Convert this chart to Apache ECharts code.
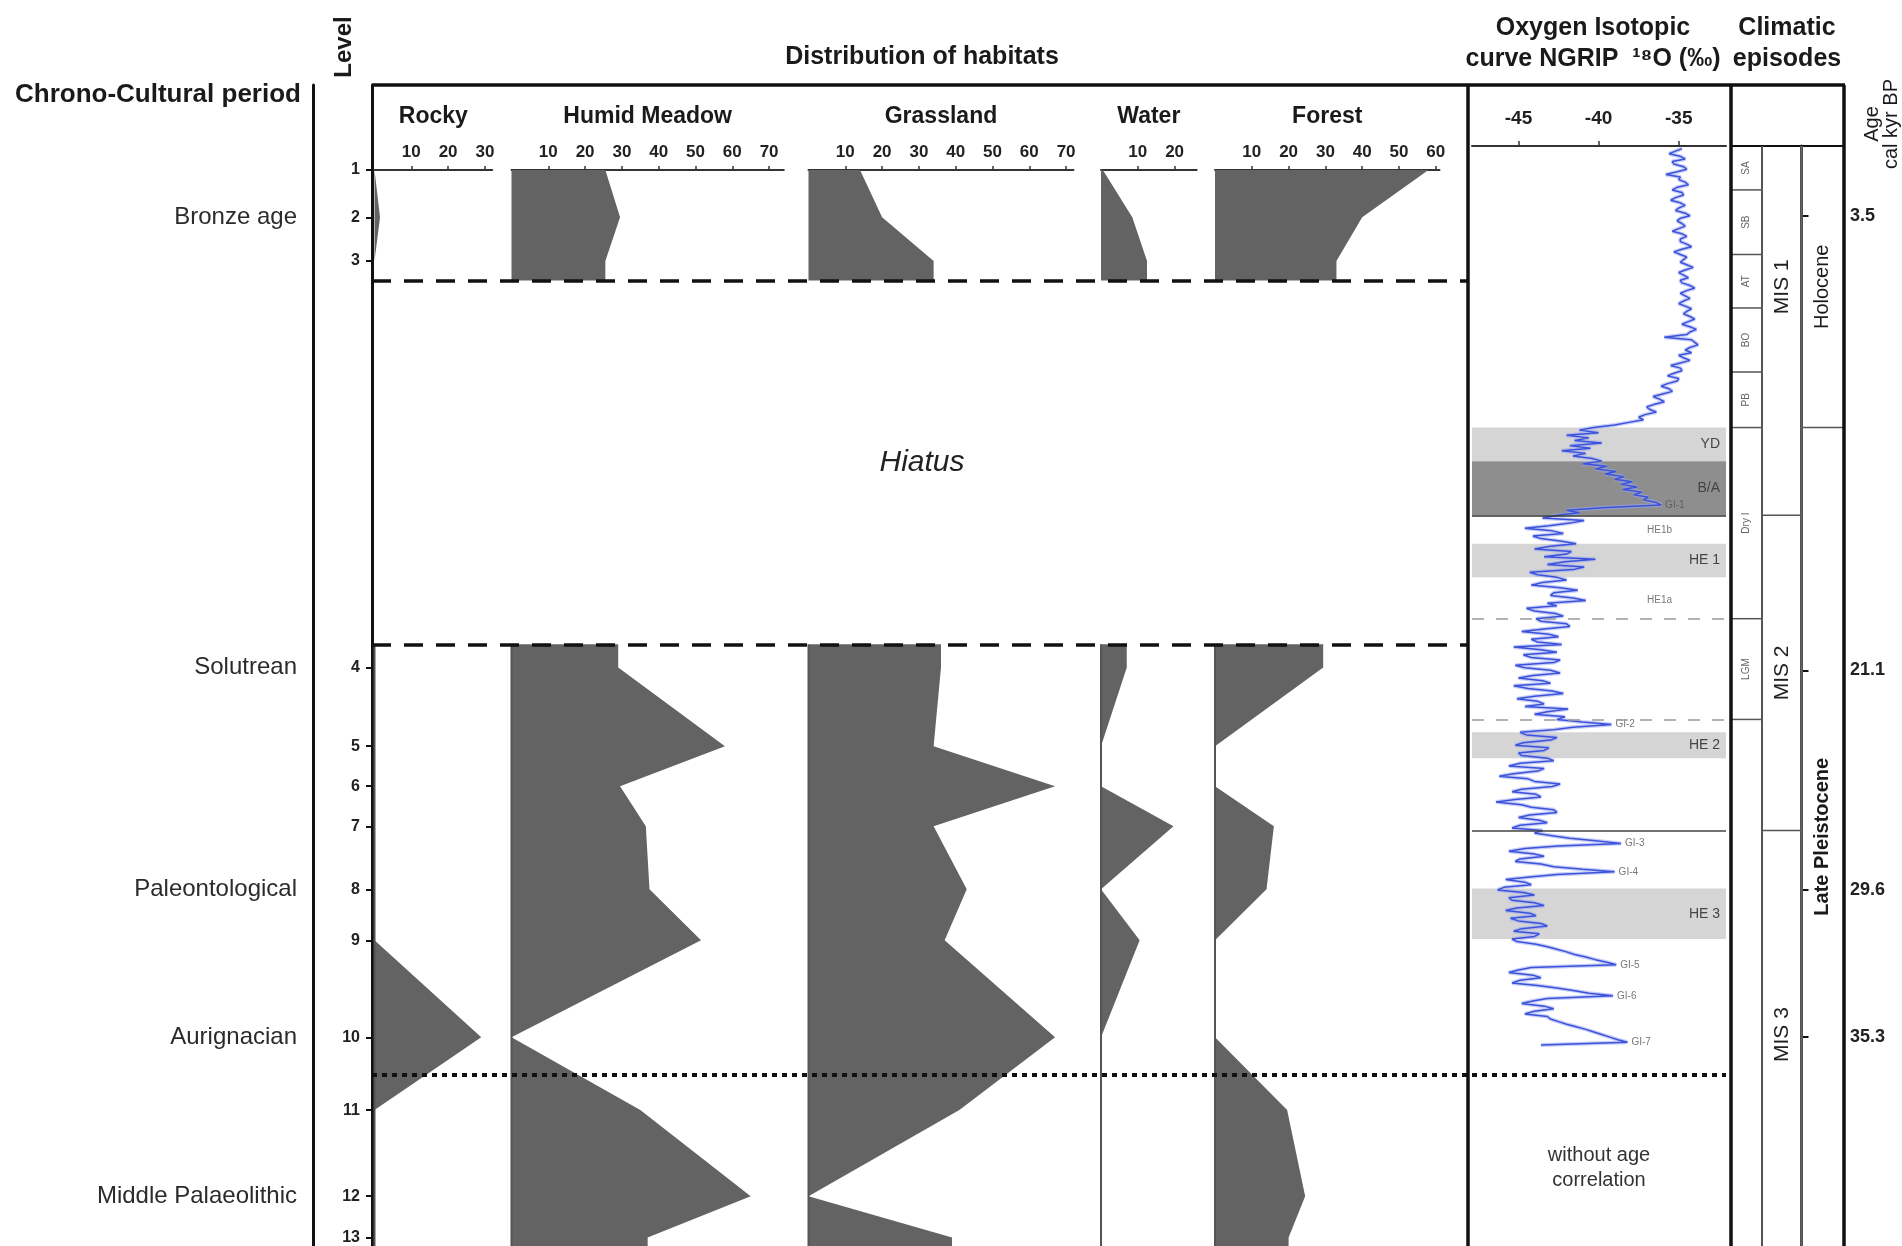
<!DOCTYPE html>
<html><head><meta charset="utf-8">
<script src="https://cdn.jsdelivr.net/npm/echarts@6/dist/echarts.min.js"></script>
<style>html,body{margin:0;padding:0;background:#fff}#c{width:1902px;height:1246px}</style>
</head><body><div id="c"></div>
<script>
// ---------------- DATA ----------------
const levels = ['1','2','3','4','5','6','7','8','9','10','11','12','13'];
// stratigraphic position of each level (depth units, top = 0)
const levelDepth = [0, 4.73, 9.1, 49.74, 57.62, 61.62, 65.63, 71.93, 77.03, 86.73, 94.01, 102.62, 106.75];
const hiatusTopDepth = 11.04, hiatusBaseDepth = 47.43, ageLimitDepth = 90.49;

const periods = ['Bronze age', 'Solutrean', 'Paleontological', 'Aurignacian', 'Middle Palaeolithic'];
const periodLevel = [2, 4, 8, 10, 12];

const habitats = ['Rocky', 'Humid Meadow', 'Grassland', 'Water', 'Forest'];
const rocky       = [0, 1.5, 0, 0, 0, 0, 0, 0, 0, 29, 0, 0, 0];
const humidMeadow = [25.5, 29.5, 25.5, 29, 58, 29.5, 36.5, 37.5, 51.5, 0, 35, 65, 37];
const grassland   = [14, 20, 34, 36, 34, 67, 34, 43, 37, 67, 41, 0, 39];
const water       = [0.5, 8.5, 12.5, 7, 0, 0, 19.7, 0, 10.5, 0, 0, 0, 0];
const forest      = [58, 40, 33, 29.4, 0, 0, 16, 14, 0, 0, 19.6, 24.5, 20];
const habitatMax  = [32, 74, 72, 26, 61];
const habitatTicks = [[10,20,30],[10,20,30,40,50,60,70],[10,20,30,40,50,60,70],[10,20],[10,20,30,40,50,60]];

// NGRIP d18O: [age ka, value permil]
const o18Curve = [
[0.9,-34.8],[1.0,-35.2],[1.1,-35.6],[1.2,-34.9],[1.3,-34.6],[1.4,-35.4],[1.5,-35.3],[1.6,-34.7],[1.7,-34.5],[1.8,-35.1],[1.9,-35.8],[2.0,-34.9],[2.1,-35.0],[2.2,-34.6],[2.3,-34.4],[2.4,-35.1],[2.5,-35.4],[2.6,-34.8],[2.7,-34.7],[2.8,-35.2],[2.9,-35.5],[3.0,-34.9],[3.1,-34.6],[3.2,-35.0],[3.3,-35.2],[3.4,-34.6],[3.5,-34.3],[3.6,-34.9],[3.7,-35.1],[3.8,-34.8],[3.9,-34.6],[4.0,-35.0],[4.1,-35.4],[4.2,-34.8],[4.3,-34.5],[4.4,-34.9],[4.5,-34.9],[4.6,-34.5],[4.7,-34.2],[4.8,-34.8],[4.9,-35.3],[5.0,-34.9],[5.1,-34.5],[5.2,-34.7],[5.3,-34.9],[5.4,-34.5],[5.5,-34.1],[5.6,-34.6],[5.7,-35.0],[5.8,-34.7],[5.9,-34.4],[6.0,-34.9],[6.1,-34.8],[6.2,-34.3],[6.3,-34.0],[6.4,-34.5],[6.5,-34.9],[6.6,-34.6],[6.7,-34.3],[6.8,-34.7],[6.9,-35.0],[7.0,-34.6],[7.1,-34.2],[7.2,-34.5],[7.3,-34.7],[7.4,-34.3],[7.5,-34.0],[7.6,-34.4],[7.7,-34.8],[7.8,-34.3],[7.9,-33.9],[8.0,-34.3],[8.1,-34.5],[8.2,-35.9],[8.3,-34.2],[8.4,-34.0],[8.5,-33.8],[8.6,-34.3],[8.7,-34.6],[8.8,-34.2],[8.9,-35.0],[9.0,-34.7],[9.1,-34.3],[9.2,-34.9],[9.3,-35.5],[9.4,-34.9],[9.5,-34.8],[9.6,-35.3],[9.7,-35.7],[9.8,-35.0],[9.9,-35.1],[10.0,-35.7],[10.1,-36.1],[10.2,-35.6],[10.3,-35.4],[10.4,-36.0],[10.5,-36.6],[10.6,-36.2],[10.7,-35.9],[10.8,-36.5],[10.9,-37.0],[11.0,-36.8],[11.1,-36.4],[11.2,-37.1],[11.3,-37.5],[11.4,-37.2],[11.5,-38.1],[11.6,-39.0],[11.7,-40.3],
[11.8,-41.2],[11.9,-40.0],[12.0,-42.0],[12.1,-40.6],[12.2,-41.5],[12.3,-39.8],[12.4,-41.8],[12.5,-40.5],[12.6,-42.3],[12.7,-40.8],[12.8,-41.6],[12.9,-40.4],
[13.0,-39.8],[13.1,-41.0],[13.2,-39.5],[13.3,-40.2],[13.4,-38.9],[13.5,-39.6],[13.6,-38.4],[13.7,-39.0],[13.8,-37.9],[13.9,-38.6],[14.0,-37.6],[14.1,-38.5],[14.2,-37.3],[14.3,-37.8],[14.4,-36.9],[14.5,-37.2],[14.6,-36.4],[14.7,-36.1],[14.8,-39.5],[14.9,-42.0],
[15.0,-41.2],[15.1,-42.6],[15.2,-43.5],[15.3,-40.9],[15.4,-41.8],[15.5,-43.1],[15.6,-44.6],[15.7,-42.9],[15.8,-42.2],[15.9,-44.1],[16.0,-43.6],[16.1,-42.3],[16.2,-41.4],[16.3,-43.0],[16.4,-44.0],[16.5,-41.7],[16.6,-42.0],[16.7,-43.4],[16.8,-40.2],[16.9,-42.1],[17.0,-43.2],[17.1,-40.9],[17.2,-41.6],[17.3,-44.3],[17.4,-43.8],[17.5,-42.6],[17.6,-42.0],[17.7,-43.5],[17.8,-44.2],[17.9,-42.4],[18.0,-41.3],[18.1,-42.8],[18.2,-43.0],[18.3,-41.6],[18.4,-40.8],[18.5,-43.2],[18.6,-42.6],[18.7,-44.5],[18.8,-44.0],[18.9,-42.7],[19.0,-42.2],[19.1,-43.9],[19.2,-43.6],[19.3,-42.0],[19.4,-41.8],[19.5,-43.4],[19.6,-44.8],[19.7,-43.1],[19.8,-42.5],[19.9,-44.2],[20.0,-43.8],[20.1,-42.3],[20.2,-45.3],[20.3,-43.6],[20.4,-42.6],[20.5,-44.7],[20.6,-44.2],[20.7,-42.4],[20.8,-42.8],[20.9,-45.2],[21.0,-44.6],[21.1,-43.0],[21.2,-42.4],[21.3,-44.1],[21.4,-45.0],[21.5,-43.5],[21.6,-43.0],[21.7,-45.3],[21.8,-44.4],[21.9,-42.9],[22.0,-42.2],[22.1,-44.0],[22.2,-45.1],[22.3,-43.8],[22.4,-43.4],[22.5,-44.6],[22.6,-41.9],[22.7,-43.2],[22.8,-44.0],[22.9,-42.1],[23.0,-42.6],[23.1,-41.0],[23.2,-39.2],[23.3,-41.6],[23.4,-42.8],[23.5,-44.9],[23.6,-44.5],[23.7,-42.6],[23.8,-43.0],[23.9,-44.7],[24.0,-45.2],[24.1,-43.1],[24.2,-43.4],[24.3,-45.0],[24.4,-44.8],[24.5,-43.2],[24.6,-42.8],[24.7,-44.9],[24.8,-45.6],[24.9,-43.4],[25.0,-43.8],[25.1,-45.3],[25.2,-46.2],[25.3,-44.4],[25.4,-44.0],[25.5,-42.4],[25.6,-42.9],[25.7,-44.8],[25.8,-45.4],[25.9,-43.9],[26.0,-43.6],[26.1,-45.2],[26.2,-46.4],[26.3,-44.8],[26.4,-44.2],[26.5,-42.8],[26.6,-42.6],[26.7,-44.3],[26.8,-45.0],[26.9,-43.7],[27.0,-43.2],[27.1,-44.9],[27.2,-45.4],[27.3,-43.5],[27.4,-44.0],[27.5,-42.9],[27.6,-41.8],[27.7,-40.2],[27.8,-38.6],[27.9,-42.5],[28.0,-44.6],[28.1,-45.6],[28.2,-44.1],[28.3,-43.4],[28.4,-44.9],[28.5,-45.2],[28.6,-43.6],[28.7,-42.8],[28.8,-41.0],[28.9,-39.0],[29.0,-42.6],[29.1,-44.3],[29.2,-45.8],[29.3,-44.6],[29.4,-44.2],[29.5,-45.9],[29.6,-46.3],[29.7,-44.7],[29.8,-44.0],[29.9,-45.6],[30.0,-45.4],[30.1,-44.0],[30.2,-43.4],[30.3,-45.1],[30.4,-45.8],[30.5,-44.3],[30.6,-43.9],[30.7,-45.5],[30.8,-45.0],[30.9,-43.6],[31.0,-43.2],[31.1,-44.8],[31.2,-45.3],[31.3,-43.7],[31.4,-44.0],[31.5,-45.4],[31.6,-45.1],[31.7,-43.9],[31.8,-43.2],[31.9,-42.6],[32.0,-42.0],[32.1,-41.5],[32.2,-40.8],[32.3,-40.2],[32.4,-39.5],[32.5,-38.9],[32.6,-44.2],[32.7,-45.0],[32.8,-45.6],[32.9,-44.1],[33.0,-43.6],[33.1,-44.9],[33.2,-45.4],[33.3,-43.8],[33.4,-42.6],[33.5,-41.5],[33.6,-40.6],[33.7,-39.1],[33.8,-43.2],[33.9,-44.1],[34.0,-44.8],[34.1,-43.4],[34.2,-42.8],[34.3,-44.0],[34.4,-44.6],[34.5,-43.2],[34.6,-43.0],[34.7,-42.5],[34.8,-42.0],[34.9,-41.4],[35.0,-40.8],[35.1,-40.3],[35.2,-39.8],[35.3,-39.3],[35.4,-38.8],[35.5,-38.2],[35.6,-43.6]
];
const o18Ticks = [-45, -40, -35];

const bandNames = ['YD', 'B/A', 'HE 1', 'HE 2', 'HE 3'];
const bandStart = [11.7, 13.0, 16.2, 23.5, 29.55];
const bandEnd   = [13.0, 15.1, 17.5, 24.5, 31.5];

const eventNames = ['GI-1', 'GI-2', 'GI-3', 'GI-4', 'GI-5', 'GI-6', 'GI-7'];
const eventAge   = [14.7, 23.2, 27.8, 28.9, 32.5, 33.7, 35.5];
const eventValue = [-36.1, -39.2, -38.6, -39.0, -38.9, -39.1, -38.2];
const heSubNames = ['HE1b', 'HE1a'];
const heSubAge   = [15.67, 18.4];

const lgmBounds = [19.1, 23.0];
const mis12Age = 15.1, mis23Age = 27.3, ageLimit = 36.76;

const chronoNames = ['SA', 'SB', 'AT', 'BO', 'PB', 'Dry I', 'LGM'];
const chronoStart = [0.8, 2.5, 5.0, 7.07, 9.55, 11.7, 19.1];
const chronoEnd   = [2.5, 5.0, 7.07, 9.55, 11.7, 19.1, 23.0];
const misNames = ['MIS 1', 'MIS 2', 'MIS 3'];
const misStart = [0.8, 15.1, 27.3];
const misEnd   = [15.1, 27.3, 60];
const misLabelAge = [6.25, 21.2, 35.2];
const epochNames = ['Holocene', 'Late Pleistocene'];
const epochStart = [0.8, 11.7];
const epochEnd   = [11.7, 60];
const ageTicks = [3.5, 21.1, 29.6, 35.3];

// ---------------- LAYOUT ----------------
const FONT = "'Liberation Sans', Arial, Helvetica, sans-serif";
const TXT = '#1a1a1a';
const FRAME_TOP = 85, AXIS_TOP = 170, BOTTOM = 1246;
const DEPTH_PX = 10;
const depthMin = -(AXIS_TOP - FRAME_TOP) / DEPTH_PX;
const depthMax = (BOTTOM - AXIS_TOP) / DEPTH_PX;
const PX_PER_PCT = 3.68;
const habitatLeft = [374.5, 511.5, 808.5, 1101, 1215];
const O18_TOP = 146, AGE_PX = 25.83, ageMin = 0.8;
const ageMax = ageMin + (BOTTOM - O18_TOP) / AGE_PX;

const habitatVals = [rocky, humidMeadow, grassland, water, forest];

const grids = [], xAxes = [], yAxes = [], series = [];
// frame grid (level axis + period axis)
grids.push({left: 372, top: FRAME_TOP, width: 1096, height: BOTTOM - FRAME_TOP});
xAxes.push({gridIndex: 0, type: 'value', min: 0, max: 1, show: false});
yAxes.push({gridIndex: 0, type: 'value', inverse: true, min: depthMin, max: depthMax, position: 'left',
  axisLine: {show: true, lineStyle: {color: '#111', width: 3}},
  axisTick: {show: true, customValues: levelDepth, length: 6, lineStyle: {color: '#111', width: 2}},
  axisLabel: {customValues: levelDepth, margin: 12, fontFamily: FONT, fontSize: 16, fontWeight: 'bold', color: '#222',
    formatter: v => { const i = levelDepth.findIndex(d => Math.abs(d - v) < 1e-6); return i >= 0 ? levels[i] : ''; }},
  splitLine: {show: false}});
const periodDepth = periodLevel.map(l => levelDepth[l - 1]);
yAxes.push({gridIndex: 0, type: 'value', inverse: true, min: depthMin, max: depthMax, position: 'left', offset: 59,
  axisLine: {show: true, lineStyle: {color: '#111', width: 3}},
  axisTick: {show: false},
  axisLabel: {customValues: periodDepth, margin: 16, fontFamily: FONT, fontSize: 24, color: '#2b2b2b',
    formatter: v => { const i = periodDepth.findIndex(d => Math.abs(d - v) < 1e-6); return i >= 0 ? periods[i] : ''; }},
  splitLine: {show: false}});
series.push({type: 'scatter', xAxisIndex: 0, yAxisIndex: 0, data: [[0.5, 0]], symbolSize: 0, silent: true, z: 10,
  markLine: {silent: true, symbol: ['none', 'none'], label: {show: false}, animation: false,
    data: [
      {yAxis: hiatusTopDepth, lineStyle: {color: '#111', width: 3.5, type: [19, 13]}},
      {yAxis: hiatusBaseDepth, lineStyle: {color: '#111', width: 3.5, type: [19, 13]}},
      {yAxis: ageLimitDepth, lineStyle: {color: '#111', width: 4, type: [5, 5]}}
    ]}});

// habitat grids
function habitatRender(vals) {
  return function (params, api) {
    if (params.dataIndex !== 0) return null;
    const top = [[0, levelDepth[0]]];
    for (let i = 0; i < 3; i++) top.push([vals[i], levelDepth[i]]);
    top.push([vals[2], hiatusTopDepth], [0, hiatusTopDepth]);
    const low = [[0, hiatusBaseDepth], [vals[3], hiatusBaseDepth]];
    for (let i = 3; i < vals.length; i++) low.push([vals[i], levelDepth[i]]);
    low.push([vals[vals.length - 1], depthMax], [0, depthMax]);
    const b0 = api.coord([0, hiatusBaseDepth]), b1 = api.coord([0, depthMax]);
    return {type: 'group', children: [
      {type: 'polygon', shape: {points: top.map(p => api.coord(p))}, style: {fill: '#636363'}},
      {type: 'polygon', shape: {points: low.map(p => api.coord(p))}, style: {fill: '#636363'}},
      {type: 'line', shape: {x1: b0[0], y1: b0[1], x2: b1[0], y2: b1[1]}, style: {stroke: '#555', lineWidth: 2}}
    ]};
  };
}
habitats.forEach((name, i) => {
  const g = grids.length;
  grids.push({left: habitatLeft[i], top: AXIS_TOP, width: habitatMax[i] * PX_PER_PCT, height: BOTTOM - AXIS_TOP});
  xAxes.push({gridIndex: g, type: 'value', position: 'top', min: 0, max: habitatMax[i],
    name: name, nameLocation: 'middle', nameGap: 42,
    nameTextStyle: {fontFamily: FONT, fontSize: 23, fontWeight: 'bold', color: TXT},
    axisLine: {show: true, onZero: false, lineStyle: {color: '#333', width: 2}},
    axisTick: {show: true, customValues: habitatTicks[i], length: 4, lineStyle: {color: '#333', width: 1.5}},
    axisLabel: {customValues: habitatTicks[i], margin: 9, fontFamily: FONT, fontSize: 17, fontWeight: 'bold', color: '#222'},
    splitLine: {show: false}});
  yAxes.push({gridIndex: g, type: 'value', inverse: true, min: 0, max: depthMax, show: false});
  series.push({type: 'custom', xAxisIndex: xAxes.length - 1, yAxisIndex: yAxes.length - 1, z: 2, silent: true,
    renderItem: habitatRender(habitatVals[i]),
    data: habitatVals[i].map((v, k) => [v, levelDepth[k]])});
});

// oxygen isotope grid
const gO = grids.length;
grids.push({left: 1472, top: O18_TOP, width: 254, height: BOTTOM - O18_TOP});
xAxes.push({gridIndex: gO, type: 'value', position: 'top', min: -47.9, max: -32.05,
  axisLine: {show: true, onZero: false, lineStyle: {color: '#333', width: 2}},
  axisTick: {show: true, customValues: o18Ticks, length: 5, lineStyle: {color: '#333', width: 1.5}},
  axisLabel: {customValues: o18Ticks, margin: 18, fontFamily: FONT, fontSize: 19, fontWeight: 'bold', color: '#222'},
  splitLine: {show: false}});
const xO = xAxes.length - 1;
yAxes.push({gridIndex: gO, type: 'value', inverse: true, min: ageMin, max: ageMax, show: false});
const yO = yAxes.length - 1;
const bandColor = n => n === 'B/A' ? '#8e8e8e' : '#d5d5d5';
const o18Data = o18Curve.map(p => [p[1], p[0]]);
// soft halo under the curve
series.push({type: 'line', xAxisIndex: xO, yAxisIndex: yO, showSymbol: false, symbol: 'none', z: 3, silent: true,
  data: o18Data, lineStyle: {color: '#9aa6f0', width: 4, opacity: 0.55}});
series.push({type: 'line', xAxisIndex: xO, yAxisIndex: yO, showSymbol: false, symbol: 'none', z: 3, silent: true,
  data: o18Data,
  lineStyle: {color: '#3b52db', width: 1.5},
  markArea: {silent: true, animation: false,
    label: {show: true, position: 'insideRight', distance: 6, color: '#444', fontFamily: FONT, fontSize: 14},
    data: bandNames.map((n, i) => [{name: n, yAxis: bandStart[i], itemStyle: {color: bandColor(n)}}, {yAxis: bandEnd[i]}])},
  markLine: {silent: true, symbol: ['none', 'none'], label: {show: false}, animation: false,
    data: [
      {yAxis: lgmBounds[0], lineStyle: {color: '#9a9a9a', width: 1.5, type: [12, 12]}},
      {yAxis: lgmBounds[1], lineStyle: {color: '#9a9a9a', width: 1.5, type: [12, 12]}},
      {yAxis: mis12Age, lineStyle: {color: '#333', width: 1.5, type: 'solid'}},
      {yAxis: mis23Age, lineStyle: {color: '#444', width: 1.5, type: 'solid'}},
      {yAxis: ageLimit, lineStyle: {color: '#111', width: 4, type: [5, 5]}}
    ]}});
series.push({type: 'scatter', xAxisIndex: xO, yAxisIndex: yO, symbolSize: 0, silent: true, z: 4,
  data: eventNames.map((n, i) => ({name: n, value: [eventValue[i], eventAge[i]]})),
  label: {show: true, position: 'right', distance: 4, formatter: '{b}', color: '#555', fontFamily: FONT, fontSize: 10}});
series.push({type: 'scatter', xAxisIndex: xO, yAxisIndex: yO, symbolSize: 0, silent: true, z: 4,
  data: heSubNames.map((n, i) => ({name: n, value: [-36.2, heSubAge[i]]})),
  label: {show: true, position: 'inside', formatter: '{b}', color: '#555', fontFamily: FONT, fontSize: 10}});

// climatic episode columns
function cellRender(names, starts, ends, labelAt, st) {
  return function (params, api) {
    const i = params.dataIndex, cs = params.coordSys;
    const yEnd = api.coord([0, ends[i]])[1];
    const la = labelAt ? labelAt[i] : (starts[i] + Math.min(ends[i], ageMax)) / 2;
    const yLab = api.coord([0, la])[1];
    const ch = [];
    if (ends[i] < ageMax) ch.push({type: 'line', shape: {x1: cs.x, y1: yEnd, x2: cs.x + cs.width, y2: yEnd}, style: {stroke: '#555', lineWidth: 1.5}});
    ch.push({type: 'text', x: cs.x + cs.width / 2, y: yLab, rotation: Math.PI / 2,
      style: {text: names[i], fill: st.color, fontSize: st.size, fontWeight: st.weight[i] || 'normal', fontFamily: FONT, align: 'center', verticalAlign: 'middle'}});
    return {type: 'group', children: ch};
  };
}
const colDefs = [
  {left: 1731, width: 31, names: chronoNames, starts: chronoStart, ends: chronoEnd, labelAt: null, st: {color: '#666', size: 10, weight: []}},
  {left: 1762, width: 39.5, names: misNames, starts: misStart, ends: misEnd, labelAt: misLabelAge, st: {color: '#222', size: 21, weight: []}},
  {left: 1801.5, width: 42.5, names: epochNames, starts: epochStart, ends: epochEnd, labelAt: null, st: {color: '#1a1a1a', size: 20, weight: ['normal', 'bold']}}
];
colDefs.forEach((c, k) => {
  const g = grids.length;
  grids.push({left: c.left, top: O18_TOP, width: c.width, height: BOTTOM - O18_TOP});
  xAxes.push({gridIndex: g, type: 'value', min: 0, max: 1, show: false});
  const yDef = {gridIndex: g, type: 'value', inverse: true, min: ageMin, max: ageMax, show: false};
  if (k === 2) {
    Object.assign(yDef, {show: true, position: 'right',
      axisLine: {show: true, lineStyle: {color: '#111', width: 3}},
      axisTick: {show: true, customValues: ageTicks, length: 7, lineStyle: {color: '#111', width: 2}},
      axisLabel: {customValues: ageTicks, margin: 6, formatter: v => v.toFixed(1), fontFamily: FONT, fontSize: 18, fontWeight: 'bold', color: '#222'},
      splitLine: {show: false}});
  }
  yAxes.push(yDef);
  series.push({type: 'custom', xAxisIndex: xAxes.length - 1, yAxisIndex: yAxes.length - 1, silent: true, z: 3,
    renderItem: cellRender(c.names, c.starts, c.ends, c.labelAt, c.st),
    data: c.names.map((n, i) => [0.5, c.starts[i]])});
});

// ---------------- FRAME & HEADINGS ----------------
const ln = (x1, y1, x2, y2, w, c) => ({type: 'line', silent: true, z: 20, shape: {x1, y1, x2, y2}, style: {stroke: c || '#111', lineWidth: w}});
const tx = (x, y, text, font, opt) => Object.assign({type: 'text', silent: true, z: 20, x, y,
  style: Object.assign({text, font, fill: TXT, align: 'center', verticalAlign: 'middle', textAlign: 'center', textVerticalAlign: 'middle'}, (opt && opt.style) || {})},
  opt && opt.rotation ? {rotation: opt.rotation} : {});
const graphic = [
  ln(372, FRAME_TOP, 1845, FRAME_TOP, 3.5),
  ln(1468, FRAME_TOP, 1468, BOTTOM, 3.5),
  ln(1731, FRAME_TOP, 1731, BOTTOM, 3.5),
  ln(1844, FRAME_TOP, 1844, BOTTOM, 3.5),
  ln(1731, O18_TOP, 1844, O18_TOP, 2),
  ln(1762, O18_TOP, 1762, BOTTOM, 2, '#555'),
  ln(1801.5, O18_TOP, 1801.5, BOTTOM, 2.5, '#666'),
  tx(344, 47, 'Level', 'bold 24px ' + FONT, {rotation: Math.PI / 2}),
  tx(15, 95, 'Chrono-Cultural period', 'bold 26px ' + FONT, {style: {align: 'left', textAlign: 'left'}}),
  tx(922, 57, 'Distribution of habitats', 'bold 25px ' + FONT),
  tx(1593, 28, 'Oxygen Isotopic', 'bold 25px ' + FONT),
  tx(1593, 59, 'curve NGRIP  \u00b9\u2078O (\u2030)', 'bold 25px ' + FONT),
  tx(1787, 28, 'Climatic', 'bold 25px ' + FONT),
  tx(1787, 59, 'episodes', 'bold 25px ' + FONT),
  tx(1882, 124, 'Age\ncal kyr BP', '20px ' + FONT, {rotation: Math.PI / 2, style: {lineHeight: 19}}),
  tx(922, 463, 'Hiatus', 'italic 30px ' + FONT, {style: {fill: '#222'}}),
  tx(1599, 1168, 'without age\ncorrelation', '20px ' + FONT, {style: {fill: '#333', lineHeight: 25}})
];

const chart = echarts.init(document.getElementById('c'), null, {renderer: 'canvas'});
chart.setOption({
  animation: false,
  backgroundColor: '#fff',
  textStyle: {fontFamily: FONT},
  grid: grids, xAxis: xAxes, yAxis: yAxes, series: series, graphic: graphic
});
</script></body></html>
